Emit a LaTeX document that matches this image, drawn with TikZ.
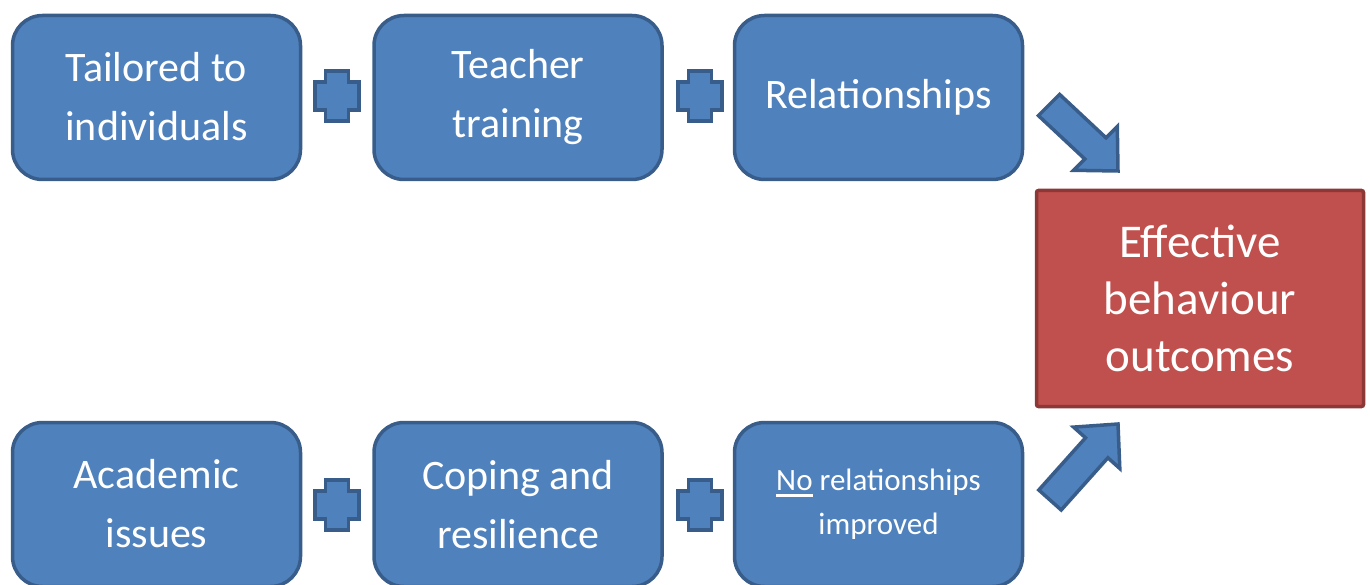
\documentclass[tikz,border=0pt]{standalone}
\usepackage{fontspec}
\setmainfont{Carlito}
\usetikzlibrary{calc}
\definecolor{bfill}{HTML}{4F81BD}
\definecolor{bborder}{HTML}{385D8A}
\definecolor{rfill}{HTML}{C0504D}
\definecolor{rborder}{HTML}{8C3836}
\newcommand\myul[1]{\setbox0\hbox{#1}\rlap{\rule[-6pt]{\wd0}{2.5pt}}\box0}
\tikzset{
  plussign/.pic={\draw[plusshape] (-11.5,-25) -- (11.5,-25) -- (11.5,-14) -- (22,-14) -- (22,14) -- (11.5,14) -- (11.5,25) -- (-11.5,25) -- (-11.5,14) -- (-22,14) -- (-22,-14) -- (-11.5,-14) -- cycle;}
}
\begin{document}
\begin{tikzpicture}[x=1pt,y=-1pt,
  bluebox/.style={draw=bborder, fill=bfill, line width=3.5pt, rounded corners=30pt,
    minimum width=288pt, minimum height=164pt, text=white, align=center, inner sep=0pt,
    font=\fontsize{42}{59}\selectfont},
  redbox/.style={draw=rborder, fill=rfill, line width=3.5pt, rounded corners=2pt,
    minimum width=327pt, minimum height=216pt, text=white, align=center, inner sep=0pt,
    font=\fontsize{47}{57}\selectfont},
  plusshape/.style={draw=bborder, fill=bfill, line width=3.5pt, line join=miter},
  blockarrow/.style={draw=bborder, fill=bfill, line width=3.5pt, line join=miter}]
\useasboundingbox (0,0) rectangle (1370,585);
\clip (0,0) rectangle (1370,585);
% top row
\node[bluebox] (tail) at (156.5,97.5) {\raisebox{3pt}{Tailored to}\\\raisebox{3pt}{individuals}};
\node[bluebox] (teach) at (518,97.5) {Teacher\\training};
\node[bluebox] (rel) at (878.5,97.5) {Relationships};
% bottom row
\node[bluebox] (acad) at (156.5,504.5) {\raisebox{3pt}{Academic}\\\raisebox{3pt}{issues}};
\node[bluebox] (cope) at (518,504.5) {Coping and\\resilience};
\node[bluebox, font=\fontsize{31}{44}\selectfont] (norel) at (878.5,504.5) {\myul{No}\ relationships\\improved};
% outcome
\node[redbox] (out) at (1200,298.5) {Effective\\behaviour\\outcomes};
% plus signs
\pic at (337,96) {plussign};
\pic at (700,96) {plussign};
\pic at (337,505) {plussign};
\pic at (700,505) {plussign};
% arrows
\draw[blockarrow] (1059.6,94.4) -- (1106,137.8) -- (1117.3,126.5) -- (1118,171)
  -- (1073.5,170.3) -- (1084.8,159) -- (1038.4,115.6) -- cycle;
\draw[blockarrow] (1038.8,490) -- (1085.5,437.8) -- (1073.6,427.1) -- (1118,424)
  -- (1119.8,468.5) -- (1107.9,457.8) -- (1061.2,510) -- cycle;
\end{tikzpicture}
\end{document}
